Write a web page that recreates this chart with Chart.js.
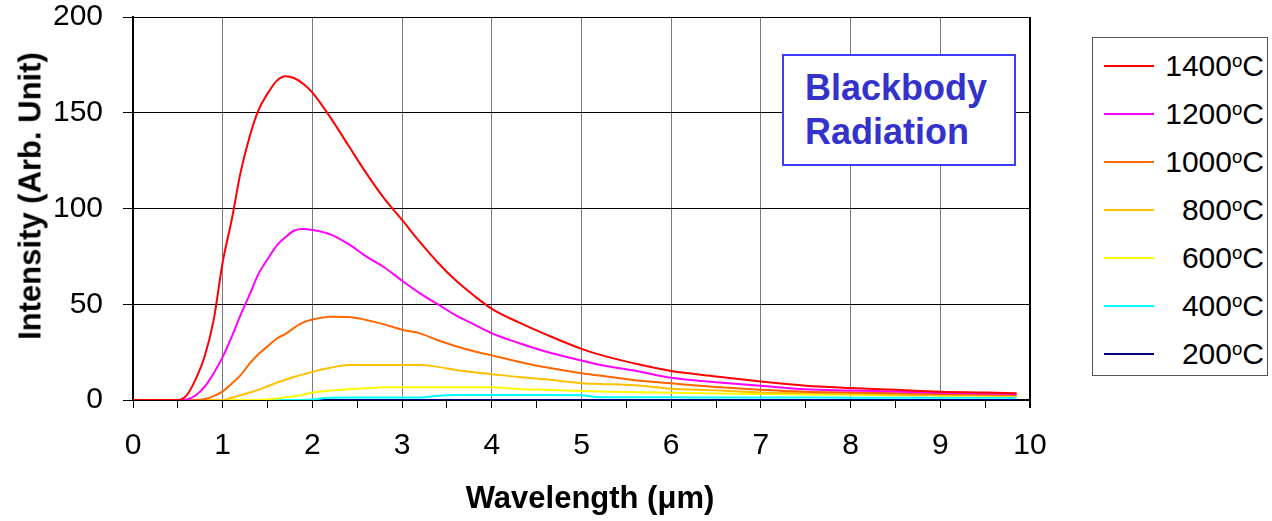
<!DOCTYPE html>
<html>
<head>
<meta charset="utf-8">
<script src="https://cdn.jsdelivr.net/npm/chart.js@4.4.1/dist/chart.umd.min.js"></script>
<style>
    body { margin: 0; background: #fff; font-family: 'Liberation Sans', Arial, sans-serif; }
    #wrap { position: relative; width: 1272px; height: 521px; overflow: hidden; }
    #chart { position: absolute; left: 0; top: 0; }
    .axis-title { position: absolute; font-weight: bold; font-size: 31px; line-height: 1; white-space: nowrap; color: #000; }
    #x-title { left: 590px; top: 497px; transform: translate(-50%, -50%); }
    #y-title { left: 30px; top: 196px; transform: translate(-50%, -50%) rotate(-90deg); }
    #title-box {
        position: absolute; left: 782px; top: 54px; width: 230px; height: 108px;
        border: 2px solid #3c3cff; background: #fff;
        color: #3333cc; font-weight: bold; font-size: 36px; line-height: 44px;
        padding: 10px 0 0 21px; box-sizing: border-box; width: 234px; height: 112px;
    }
    #legend {
        position: absolute; left: 1092px; top: 37px; width: 176px; height: 339px;
        border: 1px solid #555; box-sizing: border-box; background: #fff;
    }
    .legend-row { position: absolute; left: 0; width: 100%; height: 34px; }
    .legend-line { position: absolute; left: 11px; top: 16px; width: 50px; height: 2px; }
    .legend-text { position: absolute; right: 3px; top: 0; font-size: 30px; line-height: 34px; color: #000; }
    .legend-text sup { font-size: 0.62em; vertical-align: 0.5em; line-height: 0; }
</style>
</head>
<body>
<div id="wrap">
    <canvas id="chart" width="1272" height="521"></canvas>
    <div id="title-box">Blackbody<br>Radiation</div>
    <div id="legend"></div>
    <div id="x-title" class="axis-title">Wavelength (&mu;m)</div>
    <div id="y-title" class="axis-title">Intensity (Arb. Unit)</div>
</div>
<script>
// wavelength in micrometres, shared by all curves
const wavelength = [0, 0.5, 0.6, 0.7, 0.8, 0.9, 1.0, 1.1, 1.2, 1.3, 1.4, 1.5, 1.6, 1.7, 1.8, 1.9, 2.0,
    2.2, 2.4, 2.6, 2.8, 3.0, 3.2, 3.4, 3.6, 3.8, 4.0, 4.3, 4.6, 5.0, 5.2, 5.6, 6.0,
    6.5, 7.0, 7.5, 8.0, 8.5, 9.0, 9.5, 9.85];

// intensities, one array per temperature
const t1400 = [0, 0, 2.5, 11, 23, 42, 72, 94, 119, 137.5, 151.5, 160, 166.5, 169, 168, 165, 160.5,
    147.6, 133, 118.5, 105.3, 94, 82.4, 71.7, 62.4, 54.6, 47.6, 40.5, 34.3, 26.7, 23.7, 19, 15.1,
    12.3, 9.7, 7.5, 6.3, 5.3, 4.3, 3.9, 3.5];
const t1200 = [0, 0, 0.3, 2.5, 7, 14, 22.5, 33, 44.5, 55, 66, 73.5, 80.5, 85, 88.5, 89.3, 88.8,
    86.5, 81.5, 75, 69.3, 62.3, 55.7, 49.9, 44.2, 39.5, 34.8, 29.8, 25.3, 20.6, 18.4, 15.3, 11.6,
    9.3, 7.4, 5.6, 5.0, 4.4, 3.8, 3.4, 3.1];
const t1000 = [0, 0, 0, 0, 0.5, 2, 4.5, 8.5, 13, 19, 24, 28, 32, 34.5, 37.8, 40.5, 42,
    43.5, 43.4, 41.8, 39.5, 36.7, 34.8, 31.2, 28.1, 25.5, 23.3, 20, 17.1, 14, 12.8, 10.3, 8.7,
    6.8, 5.3, 4.3, 3.9, 3.5, 3.1, 2.9, 2.6];
const t800 = [0, 0, 0, 0, 0, 0, 0, 1.2, 2.5, 3.9, 5.3, 7.2, 9, 10.6, 12.1, 13.4, 14.7,
    16.8, 18.3, 18.3, 18.3, 18.3, 18.3, 17.3, 15.7, 14.5, 13.5, 12, 10.8, 8.8, 8.4, 7.7, 5.9,
    5.1, 3.9, 3.6, 3.2, 2.7, 2.5, 2.3, 2.1];
const t600 = [0, 0, 0, 0, 0, 0, 0, 0, 0, 0, 0, 0.3, 0.8, 1.4, 2, 2.8, 3.9,
    4.9, 5.6, 6.1, 6.6, 6.6, 6.6, 6.6, 6.6, 6.6, 6.6, 5.8, 5.3, 4.7, 4.5, 4.1, 3.8,
    3.4, 3.1, 2.9, 2.7, 2.5, 2.4, 2.3, 2.3];
const t400 = [0, 0, 0, 0, 0, 0, 0, 0, 0, 0, 0, 0, 0, 0, 0, 0, 0.3,
    1.2, 1.3, 1.3, 1.3, 1.3, 1.3, 2.2, 2.6, 2.6, 2.6, 2.6, 2.6, 2.5, 1.5, 1.4, 1.4,
    1.3, 1.3, 1.3, 1.2, 1.2, 1.2, 1.2, 1.2];
const t200 = [0, 0, 0, 0, 0, 0, 0, 0, 0, 0, 0, 0, 0, 0, 0, 0, 0,
    0, 0, 0, 0, 0, 0, 0, 0, 0, 0, 0, 0, 0, 0, 0, 0,
    0, 0, 0, 0, 0, 0, 0, 0];

const seriesLabels = ['1400', '1200', '1000', '800', '600', '400', '200'];
const seriesValues = [t1400, t1200, t1000, t800, t600, t400, t200];
const seriesColors = ['#ff0000', '#ff00ff', '#ff6600', '#ffc000', '#ffff00', '#00ffff', '#000080'];

const xTicks = { min: 0, max: 10, step: 1 };
const yTicks = { min: 0, max: 200, step: 50 };

const font = { family: "'Liberation Sans', Arial, sans-serif", size: 30 };

// legend box (html, same order as datasets)
const legend = document.getElementById('legend');
seriesLabels.forEach((lab, i) => {
    const row = document.createElement('div');
    row.className = 'legend-row';
    row.style.top = (11 + i * 48) + 'px';
    row.innerHTML = '<div class="legend-line" style="background:' + seriesColors[i] + '"></div>' +
        '<div class="legend-text">' + lab + '<sup>o</sup>C</div>';
    legend.appendChild(row);
});

const datasets = seriesLabels.map((lab, i) => ({
    label: lab + '°C',
    data: wavelength.map((w, k) => ({ x: w, y: seriesValues[i][k] })),
    borderColor: seriesColors[i],
    backgroundColor: seriesColors[i],
    borderWidth: 2,
    pointRadius: 0,
    cubicInterpolationMode: 'monotone',
    fill: false
}));

new Chart(document.getElementById('chart').getContext('2d'), {
    type: 'line',
    data: { datasets: datasets },
    options: {
        responsive: false,
        animation: false,
        layout: { padding: { left: 0, right: 242, top: 17, bottom: 0 } },
        plugins: { legend: { display: false }, tooltip: { enabled: false } },
        scales: {
            x: {
                type: 'linear',
                min: xTicks.min,
                max: xTicks.max,
                afterFit: (scale) => {
                    scale.height = 121;
                    scale.paddingLeft = 0;
                    scale.paddingRight = 0;
                },
                ticks: {
                    stepSize: xTicks.step / 2,
                    color: '#000',
                    font: font,
                    padding: 20,
                    maxRotation: 0,
                    autoSkip: false,
                    callback: (v) => Number.isInteger(v) ? String(v) : ''
                },
                grid: {
                    color: (ctx) => {
                        const v = ctx.tick ? ctx.tick.value : 0;
                        if (v === xTicks.max) return '#000';
                        return Number.isInteger(v) ? '#7a7a7a' : 'rgba(0,0,0,0)';
                    },
                    lineWidth: (ctx) => (ctx.tick && ctx.tick.value === xTicks.max) ? 2 : 1,
                    tickColor: '#000',
                    tickLength: 8
                },
                border: { color: '#000', width: 2 }
            },
            y: {
                min: yTicks.min,
                max: yTicks.max,
                afterFit: (scale) => {
                    scale.width = 133;
                    scale.paddingTop = 0;
                    scale.paddingBottom = 0;
                },
                ticks: {
                    stepSize: yTicks.step,
                    color: '#000',
                    font: font,
                    padding: 20
                },
                grid: {
                    color: '#000',
                    lineWidth: 1,
                    tickColor: '#000',
                    tickLength: 10
                },
                border: { color: '#000', width: 2 }
            }
        }
    }
});
</script>
</body>
</html>
